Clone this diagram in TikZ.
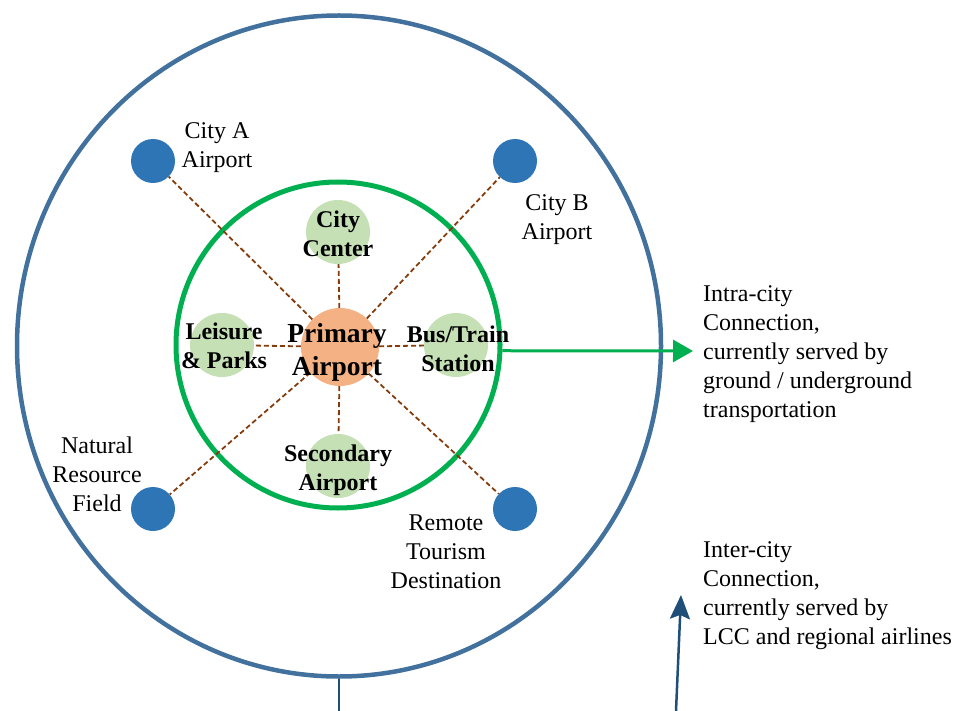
\documentclass[tikz,border=0pt]{standalone}
\usepackage{fontspec}
\setmainfont{Liberation Serif}
\usetikzlibrary{arrows.meta,shapes.geometric}

\definecolor{bleuext}{HTML}{41719C}
\definecolor{bleupt}{HTML}{2E75B6}
\definecolor{bleufonce}{HTML}{1F4E79}
\definecolor{vert}{HTML}{00B050}
\definecolor{vertclair}{HTML}{C5E0B4}
\definecolor{saumon}{HTML}{F4B183}
\definecolor{brun}{HTML}{843C0C}

\begin{document}
\begin{tikzpicture}[x=1pt, y=-1pt,
    ville/.style={circle, fill=bleupt, inner sep=0pt, minimum size=44pt},
    pole/.style={circle, fill=vertclair, inner sep=0pt, minimum size=64pt},
    lien/.style={draw=brun, line width=1.8pt, dash pattern=on 5pt off 3pt},
    texte/.style={inner sep=0pt, align=center, font=\fontsize{24}{29}\selectfont},
    gras/.style={texte, font=\fontsize{24}{29}\selectfont\bfseries}]
    \useasboundingbox (0,0) rectangle (958,711);
    % Cercles
    \node[ellipse, draw=bleuext, line width=4.5pt, minimum width=644pt, minimum height=661pt] at (339,346) (ext) {};
    \node[ellipse, draw=vert, line width=5pt, minimum width=324pt, minimum height=326pt] at (338,345) (int) {};
    % Sommets
    \node[circle, fill=saumon, inner sep=0pt, minimum size=78pt] at (340,347) (prim) {};
    \node[pole] at (338,232) (centre) {};
    \node[pole] at (222,345) (loisirs) {};
    \node[pole] at (456,345) (gare) {};
    \node[pole] at (338,466) (second) {};
    \node[ville] at (153,161) (villeA) {};
    \node[ville] at (515,161) (villeB) {};
    \node[ville] at (153,509) (nature) {};
    \node[ville] at (515,509) (tourisme) {};
    % Liaisons
    \path[lien] (prim) edge (centre) edge (loisirs) edge (gare) edge (second);
    \path[lien] (prim) edge (villeA) edge (villeB) edge (nature) edge (tourisme);
    % Textes
    \node[texte] at (217,148) (lA) {City A\\Airport};
    \node[texte] at (557,220) (lB) {City B\\Airport};
    \node[texte] at (97,474) (lN) {Natural\\Resource\\Field};
    \node[texte] at (446,552) (lR) {Remote\\Tourism\\Destination};
    \node[gras] at (338,234) (lC) {City\\Center};
    \node[gras] at (224,346) (lL) {Leisure\\\& Parks};
    \node[gras, font=\fontsize{27.5}{33}\selectfont\bfseries] at (337,352) (lP) {Primary\\Airport};
    \node[gras] at (458,349) (lG) {Bus/Train\\Station};
    \node[gras] at (338,470) (lS) {Secondary\\Airport};
    \node[texte, anchor=west, align=left] at (703,354) (intra) {Intra-city\\Connection,\\currently served by\\ground / underground\\transportation};
    \node[texte, anchor=west, align=left] at (703,596) (inter) {Inter-city\\Connection,\\currently served by\\LCC and regional airlines};
    % Fleches
    \coordinate (bout) at (693,351);
    \draw[vert, line width=3pt, -{Triangle[length=20pt, width=22pt]}] (int.-2) -- (bout);
    \coordinate (pied) at (339,711);
    \draw[bleufonce, line width=2.5pt] (ext.south) -- (pied);
    \coordinate (depart) at (676,711);
    \coordinate (sommet) at (681,595);
    \draw[bleufonce, line width=2.5pt, -{Stealth[length=24pt, width=20pt, inset=4pt]}] (depart) -- (sommet);
\end{tikzpicture}
\end{document}
